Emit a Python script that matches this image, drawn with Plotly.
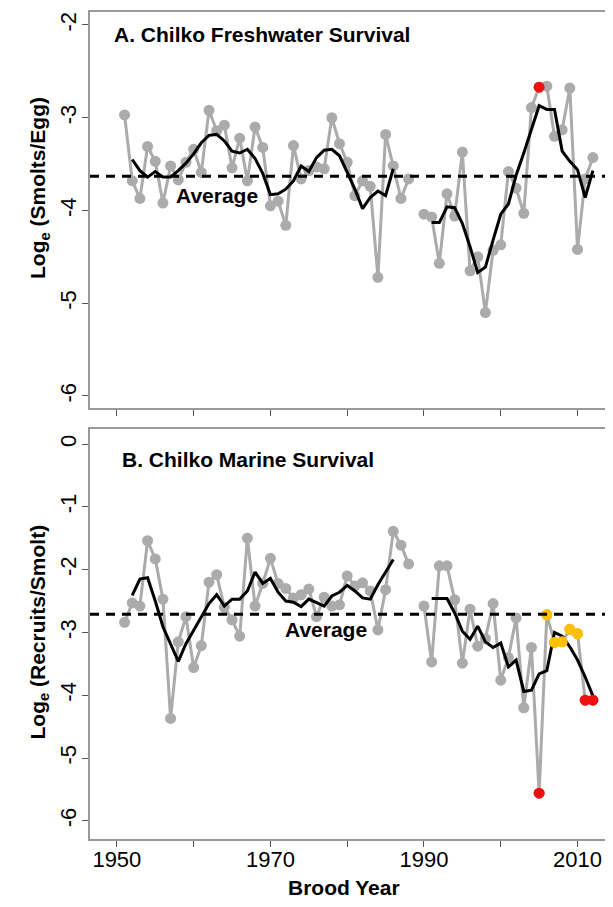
import plotly.graph_objects as go

# Brood years (1989 missing in both series)
years = list(range(1951, 2013))

# A. Chilko freshwater survival, log_e(smolts/egg)
fw_obs = [-2.97, -3.68, -3.87, -3.31, -3.47, -3.92, -3.52, -3.67, -3.48, -3.34,
          -3.59, -2.92, -3.14, -3.08, -3.54, -3.22, -3.68, -3.10, -3.32, -3.95,
          -3.90, -4.16, -3.30, -3.66, -3.57, -3.53, -3.55, -3.00, -3.28, -3.48,
          -3.84, -3.68, -3.74, -4.72, -3.18, -3.52, -3.87, -3.66, None, -4.04,
          -4.07, -4.57, -3.82, -4.06, -3.37, -4.65, -4.50, -5.10, -4.43, -4.37,
          -3.58, -3.76, -4.03, -2.89, -2.67, -2.66, -3.20, -3.13, -2.68, -4.42,
          -3.66, -3.43]
fw_smooth = [None, -3.45, -3.57, -3.64, -3.58, -3.64, -3.64, -3.57, -3.49, -3.39,
             -3.27, -3.19, -3.18, -3.25, -3.36, -3.38, -3.34, -3.44, -3.60, -3.83,
             -3.82, -3.77, -3.68, -3.52, -3.58, -3.43, -3.35, -3.34, -3.41, -3.59,
             -3.77, -3.98, -3.86, -3.79, -3.84, -3.55, None, None, None, None,
             -4.13, -4.13, -3.96, -3.97, -4.14, -4.39, -4.67, -4.61, -4.32, -4.04,
             -3.93, -3.62, -3.38, -3.13, -2.87, -2.91, -2.91, -3.36, -3.47, -3.56,
             -3.86, -3.57]
fw_average = -3.63
fw_red_years = [2005]
fw_red_vals = [-2.67]

# B. Chilko marine survival, log_e(recruits/smolt)
mar_obs = [-2.84, -2.53, -2.58, -1.54, -1.83, -2.47, -4.37, -3.15, -2.75, -3.56,
           -3.21, -2.20, -2.08, -2.60, -2.80, -3.06, -1.50, -2.58, -2.22, -1.82,
           -2.22, -2.30, -2.45, -2.40, -2.31, -2.75, -2.44, -2.58, -2.56, -2.10,
           -2.26, -2.21, -2.34, -2.96, -2.32, -1.39, -1.61, -1.91, None, -2.58,
           -3.47, -1.94, -1.94, -2.48, -3.49, -2.63, -3.22, -3.10, -2.54, -3.76,
           -3.40, -2.77, -4.20, -3.24, -5.56, -2.72, -3.16, -3.15, -2.95, -3.02,
           -4.08, -4.08]
mar_smooth = [None, -2.41, -2.15, -2.13, -2.50, -2.91, -3.19, -3.46, -3.18, -2.96,
              -2.75, -2.54, -2.40, -2.58, -2.47, -2.47, -2.34, -2.04, -2.22, -2.14,
              -2.36, -2.50, -2.52, -2.59, -2.47, -2.52, -2.58, -2.42, -2.36, -2.25,
              -2.34, -2.45, -2.47, -2.24, -2.05, -1.84, None, None, None, None,
              -2.46, -2.46, -2.46, -2.69, -2.98, -3.11, -2.90, -3.15, -3.24, -3.17,
              -3.55, -3.44, -3.94, -3.92, -3.66, -3.61, -3.00, -3.06, -3.23, -3.44,
              -3.71, -4.01]
mar_average = -2.71
mar_orange_years = [2006, 2007, 2008, 2009, 2010]
mar_orange_vals = [-2.72, -3.16, -3.15, -2.95, -3.02]
mar_red_years = [2005, 2011, 2012]
mar_red_vals = [-5.56, -4.08, -4.08]

# ticks
year_major = [1950, 1970, 1990, 2010]
year_minor = [1960, 1980, 2000]
fw_ticks = [-6, -5, -4, -3, -2]
mar_ticks = [-6, -5, -4, -3, -2, -1, 0]

GREY = "#ABABAB"
RED = "#F01010"
ORANGE = "#FFC000"
FONT = "Liberation Sans"

fig = go.Figure()

def add_panel(fig, xa, ya, obs, smooth, extras):
    fig.add_trace(go.Scatter(x=years, y=obs, mode="lines+markers", xaxis=xa, yaxis=ya,
                             line=dict(color=GREY, width=3),
                             marker=dict(color=GREY, size=11), connectgaps=False))
    fig.add_trace(go.Scatter(x=years, y=smooth, mode="lines", xaxis=xa, yaxis=ya,
                             line=dict(color="black", width=3), connectgaps=False))
    for xs, ys, col in extras:
        fig.add_trace(go.Scatter(x=xs, y=ys, mode="markers", xaxis=xa, yaxis=ya,
                                 marker=dict(color=col, size=11)))

add_panel(fig, "x", "y", fw_obs, fw_smooth, [(fw_red_years, fw_red_vals, RED)])
add_panel(fig, "x2", "y2", mar_obs, mar_smooth,
          [(mar_orange_years, mar_orange_vals, ORANGE), (mar_red_years, mar_red_vals, RED)])

# dashed average lines across the full panel
for ya, avg in [("y", fw_average), ("y2", mar_average)]:
    fig.add_shape(type="line", xref=ya.replace("y", "x") + " domain", yref=ya,
                  x0=0, x1=1, y0=avg, y1=avg,
                  line=dict(color="black", width=3, dash="9px,7px"))

axis_common = dict(showgrid=False, zeroline=False, showline=True, linecolor="#9A9A9A",
                   linewidth=1.5, mirror=True, ticks="outside", ticklen=6,
                   tickcolor="#555555", tickwidth=1,
                   tickfont=dict(family=FONT, size=22, color="black"))
minor_x = dict(tickvals=year_minor, ticks="outside", ticklen=6,
               tickcolor="#555555", tickwidth=1, showgrid=False)

# the page body adds an 8px offset, so the figure is a little smaller than the window
fig.update_layout(
    width=605, height=899,
    margin=dict(l=82, r=3, t=2, b=68),
    plot_bgcolor="white", paper_bgcolor="white",
    showlegend=False,
    xaxis=dict(domain=[0, 1], range=[1946.5, 2014.1], anchor="y",
               tickvals=year_major, minor=minor_x,
               showticklabels=False, **axis_common),
    yaxis=dict(domain=[0.5211, 1.0], range=[-6.13, -1.86], anchor="x",
               tickvals=fw_ticks, ticktext=[str(v) for v in fw_ticks], tickangle=-90,
               ticklabelstandoff=-3, **axis_common),
    xaxis2=dict(domain=[0, 1], range=[1946.5, 2014.1], anchor="y2",
                tickvals=year_major, minor=minor_x,
                ticklabelstandoff=-6, **axis_common),
    yaxis2=dict(domain=[0, 0.4958], range=[-6.29, 0.24], anchor="x2",
                tickvals=mar_ticks, ticktext=[str(v) for v in mar_ticks], tickangle=-90,
                ticklabelstandoff=-3, **axis_common),
)

bold = dict(family=FONT, size=21, color="black")
notes = [
    dict(text="<b>A. Chilko Freshwater Survival</b>", xref="x domain", yref="y domain",
         x=0.0425, y=0.942, xanchor="left", yanchor="middle"),
    dict(text="<b>B. Chilko Marine Survival</b>", xref="x2 domain", yref="y2 domain",
         x=0.058, y=0.925, xanchor="left", yanchor="middle"),
    dict(text="<b>Average</b>", xref="x", yref="y", x=1963.1, y=-3.84,
         xanchor="center", yanchor="middle"),
    dict(text="<b>Average</b>", xref="x2", yref="y2", x=1977.3, y=-2.95,
         xanchor="center", yanchor="middle"),
    dict(text="<b>Log<sub>e</sub> (Smolts/Egg)</b>", xref="paper", yref="y domain",
         x=-0.098, y=0.556, textangle=-90, xanchor="center", yanchor="middle"),
    dict(text="<b>Log<sub>e</sub> (Recruits/Smolt)</b>", xref="paper", yref="y2 domain",
         x=-0.098, y=0.504, textangle=-90, xanchor="center", yanchor="middle"),
    dict(text="<b>Brood Year</b>", xref="paper", yref="paper",
         x=0.49, y=-0.059, xanchor="center", yanchor="middle"),
]
for n in notes:
    fig.add_annotation(showarrow=False, font=bold, **n)

fig.write_html("out.html")
